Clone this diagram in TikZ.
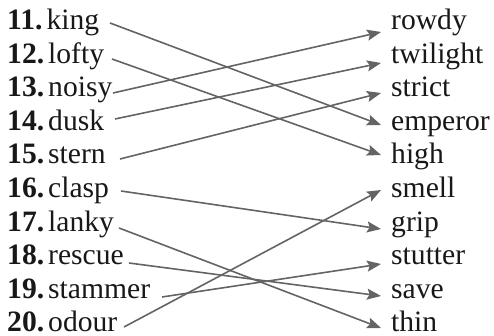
\documentclass[tikz,border=0pt]{standalone}
\usepackage{fontspec}
\setmainfont{Liberation Serif}
\usetikzlibrary{arrows.meta}
\definecolor{linegray}{HTML}{636466}
\definecolor{textcol}{HTML}{1A1718}
\tikzset{
  word/.style={anchor=base west, inner sep=0pt, text=textcol, font=\fontsize{29.6}{32}\selectfont},
  arr/.style={draw=linegray, line width=1.6pt, -{Stealth[length=14pt,width=11pt,inset=2.5pt]}}
}
\begin{document}
\begin{tikzpicture}[x=1pt,y=-1pt]
\useasboundingbox (0,0) rectangle (494,336);
% left column
\node[word] (l11) at (7,30)    {\textbf{11.}\hspace{4pt}king};
\node[word] (l12) at (7,63.5)  {\textbf{12.}\hspace{4pt}lofty};
\node[word] (l13) at (7,97)    {\textbf{13.}\hspace{4pt}noisy};
\node[word] (l14) at (7,130.5) {\textbf{14.}\hspace{4pt}dusk};
\node[word] (l15) at (7,164)   {\textbf{15.}\hspace{4pt}stern};
\node[word] (l16) at (7,197.5) {\textbf{16.}\hspace{4pt}clasp};
\node[word] (l17) at (7,231)   {\textbf{17.}\hspace{4pt}lanky};
\node[word] (l18) at (7,264.5) {\textbf{18.}\hspace{4pt}rescue};
\node[word] (l19) at (7,298)   {\textbf{19.}\hspace{4pt}stammer};
\node[word] (l20) at (7,331)   {\textbf{20.}\hspace{4pt}odour};
% right column
\node[word] (rowdy)    at (391,30)    {rowdy};
\node[word] (twilight) at (391,63.5)  {twilight};
\node[word] (strict)   at (391,97)    {strict};
\node[word] (emperor)  at (391,130.5) {emperor};
\node[word] (high)     at (391,164)   {high};
\node[word] (smell)    at (391,197.5) {smell};
\node[word] (grip)     at (391,231)   {grip};
\node[word] (stutter)  at (391,264.5) {stutter};
\node[word] (save)     at (391,298)   {save};
\node[word] (thin)     at (391,331)   {thin};
% connector ends
\coordinate (s11) at (110,23);
\coordinate (s12) at (112,59);
\coordinate (s13) at (113,93);
\coordinate (s14) at (115,119);
\coordinate (s15) at (120,159);
\coordinate (s16) at (121,191);
\coordinate (s17) at (119,228);
\coordinate (s18) at (129,263);
\coordinate (s19) at (162,297);
\coordinate (s20) at (124,327);
\coordinate (t-rowdy)    at (381,32);
\coordinate (t-twilight) at (381,63);
\coordinate (t-strict)   at (381,93);
\coordinate (t-emperor)  at (381,125);
\coordinate (t-high)     at (381,155);
\coordinate (t-smell)    at (381,190);
\coordinate (t-grip)     at (381,229);
\coordinate (t-stutter)  at (381,264);
\coordinate (t-save)     at (381,296);
\coordinate (t-thin)     at (381,328);
% connectors
\draw[arr] (s11) -- (t-emperor);
\draw[arr] (s12) -- (t-high);
\draw[arr] (s13) -- (t-rowdy);
\draw[arr] (s14) -- (t-twilight);
\draw[arr] (s15) -- (t-strict);
\draw[arr] (s16) -- (t-grip);
\draw[arr] (s17) -- (t-thin);
\draw[arr] (s18) -- (t-save);
\draw[arr] (s19) -- (t-stutter);
\draw[arr] (s20) -- (t-smell);
\end{tikzpicture}
\end{document}
